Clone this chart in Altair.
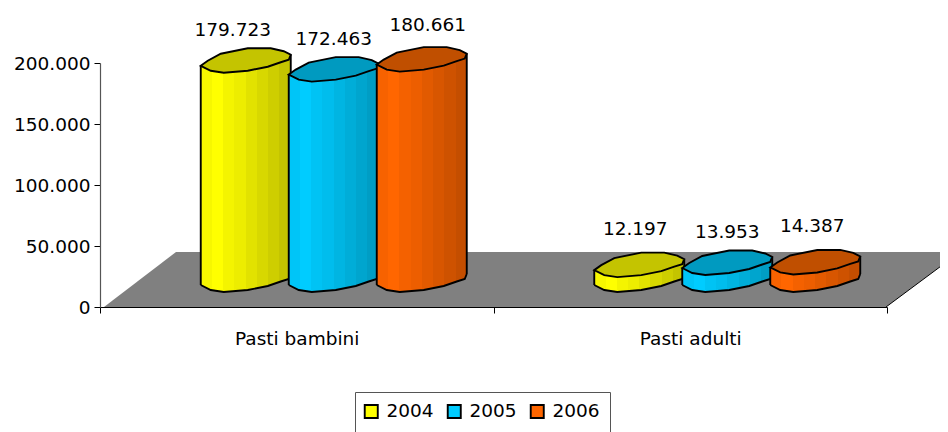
import altair as alt
import pandas as pd

categories = ["Pasti bambini", "Pasti adulti"]
years = ["2004", "2005", "2006"]
series_2004 = [179723, 12197]
series_2005 = [172463, 13953]
series_2006 = [180661, 14387]
series = [series_2004, series_2005, series_2006]
legend_colors = ["#FFFF00", "#00CCFF", "#FF6600"]
top_colors = ["#C4C400", "#009AC0", "#C04F00"]
y_ticks = [0, 50000, 100000, 150000, 200000]

FONT = "DejaVu Sans"
FS = 18.5

shades = [0.97, 1.0, 0.96, 0.93, 0.89, 0.85, 0.81, 0.77]


def gradient(hexcol):
    r, g, b = [int(hexcol[i:i + 2], 16) for i in (1, 3, 5)]
    stops = []
    n = len(shades)
    for k, s in enumerate(shades):
        c = "#%02X%02X%02X" % (int(r * s), int(g * s), int(b * s))
        stops.append(alt.GradientStop(color=c, offset=k / n))
        stops.append(alt.GradientStop(color=c, offset=(k + 1) / n))
    return alt.LinearGradient(gradient="linear", stops=stops, x1=0, x2=1, y1=0, y2=0)


# outline shapes, in pixels around the symbol anchor
lower = "L45,-6 L43,-1 L35,1.5 L22,6 L2,10 L-22,12 L-35,10 L-45,5"
cap = "M-45,5 L-38,0 L-25,-7 L2,-12.5 L25,-12.5 L38,-9.5 L45,-6 L43,-1 L35,1.5 L22,6 L2,10 L-22,12 L-35,10 Z"
cap_under = "M-45,5 L45,-6 L45,10 L-45,10 Z"
base_fill = "M-45,-8 L45,-8 " + lower + " Z"
base_line = "M" + lower[1:]
floor_path = "M4,0 L76,-55 L860,-55 L786,0 Z"
floor_edge = "M786,0 L860,-55"

W, H = 787, 244
TOP = -27
SZ = 4
EDGE = 1.9

y_scale = alt.Scale(domain=[0, 200000], nice=False)
y_axis = alt.Axis(
    title=None, values=y_ticks, tickSize=6, tickColor="#000000", domainColor="#555555",
    domainWidth=1.2, labelFont=FONT, labelFontSize=FS, labelColor="#000000",
    labelPadding=4, grid=False,
    labelExpr="replace(format(datum.value, ',d'), ',', '.')",
)
x_enc = alt.X(
    "cat:N",
    sort=categories,
    scale=alt.Scale(domain=categories, paddingInner=0, paddingOuter=0, round=False),
    axis=alt.Axis(
        title=None, labelAngle=0, tickBand="extent", tickSize=6, tickColor="#000000",
        domainColor="#000000", domainWidth=1.2, labelFont=FONT, labelFontSize=FS,
        labelColor="#000000", labelPadding=25, labelBaseline="middle", grid=False,
    ),
)
y_enc = alt.Y("val:Q", stack=None, scale=y_scale, axis=y_axis)
zero = alt.Y2(datum=0)

zero_df = pd.DataFrame({"cat": categories, "val": [0, 0]})

layers = []

layers.append(
    alt.Chart(zero_df.head(1)).mark_point(
        shape=floor_path, size=SZ, filled=True, fill="#808080", opacity=1, strokeWidth=0
    ).encode(x=alt.value(0), y=alt.value(H))
)
layers.append(
    alt.Chart(zero_df.head(1)).mark_point(
        shape=floor_edge, size=SZ, filled=False, stroke="#000000", opacity=1, strokeWidth=1
    ).encode(x=alt.value(0), y=alt.value(H))
)

dxs = [-51, 37, 125]
label_dx = [[-13, -4], [0, 0], [6, -3]]
label_dy = [[-58, -63], [-58, -58], [-62, -63]]

long_rows = []
for i, yr in enumerate(years):
    df = pd.DataFrame({"cat": categories, "val": series[i], "year": yr})
    long_rows.append(df)
    base = alt.Chart(df)
    grad = gradient(legend_colors[i])
    dx = dxs[i]
    # bottom rim fill and outline at value zero
    zero_enc = dict(x=x_enc, y=alt.Y("zero:Q", scale=y_scale, axis=y_axis))
    tf = base.transform_calculate(zero="0")
    layers.append(tf.mark_point(shape=base_fill, size=SZ, filled=True, fill=grad, opacity=1,
                                strokeWidth=0, xOffset=dx, yOffset=TOP).encode(**zero_enc))
    layers.append(base.mark_bar(width=90, fill=grad, xOffset=dx, yOffset=TOP + 5, y2Offset=TOP - 6).encode(
        x=x_enc, y=y_enc, y2=zero))
    layers.append(base.mark_point(shape=cap_under, size=SZ, filled=True, fill=grad, opacity=1,
                                  strokeWidth=0, xOffset=dx, yOffset=TOP).encode(x=x_enc, y=y_enc))
    layers.append(tf.mark_point(shape=base_line, size=SZ, filled=False, stroke="#000000", opacity=1,
                                strokeWidth=EDGE, xOffset=dx, yOffset=TOP).encode(**zero_enc))
    layers.append(base.mark_rule(color="#000000", strokeWidth=EDGE, xOffset=dx - 45, yOffset=TOP + 5,
                                 y2Offset=TOP + 5).encode(x=x_enc, y=y_enc, y2=zero))
    layers.append(base.mark_rule(color="#000000", strokeWidth=EDGE, xOffset=dx + 45, yOffset=TOP - 6,
                                 y2Offset=TOP - 6).encode(x=x_enc, y=y_enc, y2=zero))
    layers.append(base.mark_point(shape=cap, size=SZ, filled=True, fill=top_colors[i], opacity=1,
                                  stroke="#000000", strokeWidth=EDGE, xOffset=dx, yOffset=TOP).encode(x=x_enc, y=y_enc))

for i, yr in enumerate(years):
    for j, c in enumerate(categories):
        d = pd.DataFrame({"cat": [c], "val": [series[i][j]]})
        layers.append(
            alt.Chart(d).transform_calculate(
                lab="replace(format(datum.val, ',d'), ',', '.')"
            ).mark_text(
                font=FONT, fontSize=FS, color="#000000", xOffset=dxs[i] + label_dx[i][j],
                yOffset=label_dy[i][j], baseline="middle",
            ).encode(x=x_enc, y=y_enc, text="lab:N")
        )

all_df = pd.concat(long_rows)
layers.append(
    alt.Chart(all_df).mark_point(size=0, filled=True, opacity=1).encode(
        x=x_enc,
        y=y_enc,
        fill=alt.Fill(
            "year:N",
            scale=alt.Scale(domain=years, range=legend_colors),
            legend=alt.Legend(
                title=None, orient="none", legendX=255, legendY=329, direction="horizontal",
                columns=3, symbolType="square", symbolSize=170, symbolStrokeColor="#000000",
                symbolStrokeWidth=EDGE, symbolOpacity=1, labelFont=FONT, labelFontSize=FS,
                labelColor="#000000", fillColor="#FFFFFF", strokeColor="#555555", padding=10,
                columnPadding=9, labelOffset=6, symbolOffset=-3,
            ),
        ),
    )
)

chart = alt.layer(*layers).properties(
    width=W,
    height=H,
    padding={"left": 92, "top": 55, "right": 53, "bottom": 125},
    autosize=alt.AutoSizeParams(type="none"),
).configure_view(stroke=None).configure_axis(grid=False)

chart.save("out.html", embed_options={"renderer": "svg", "actions": False})
